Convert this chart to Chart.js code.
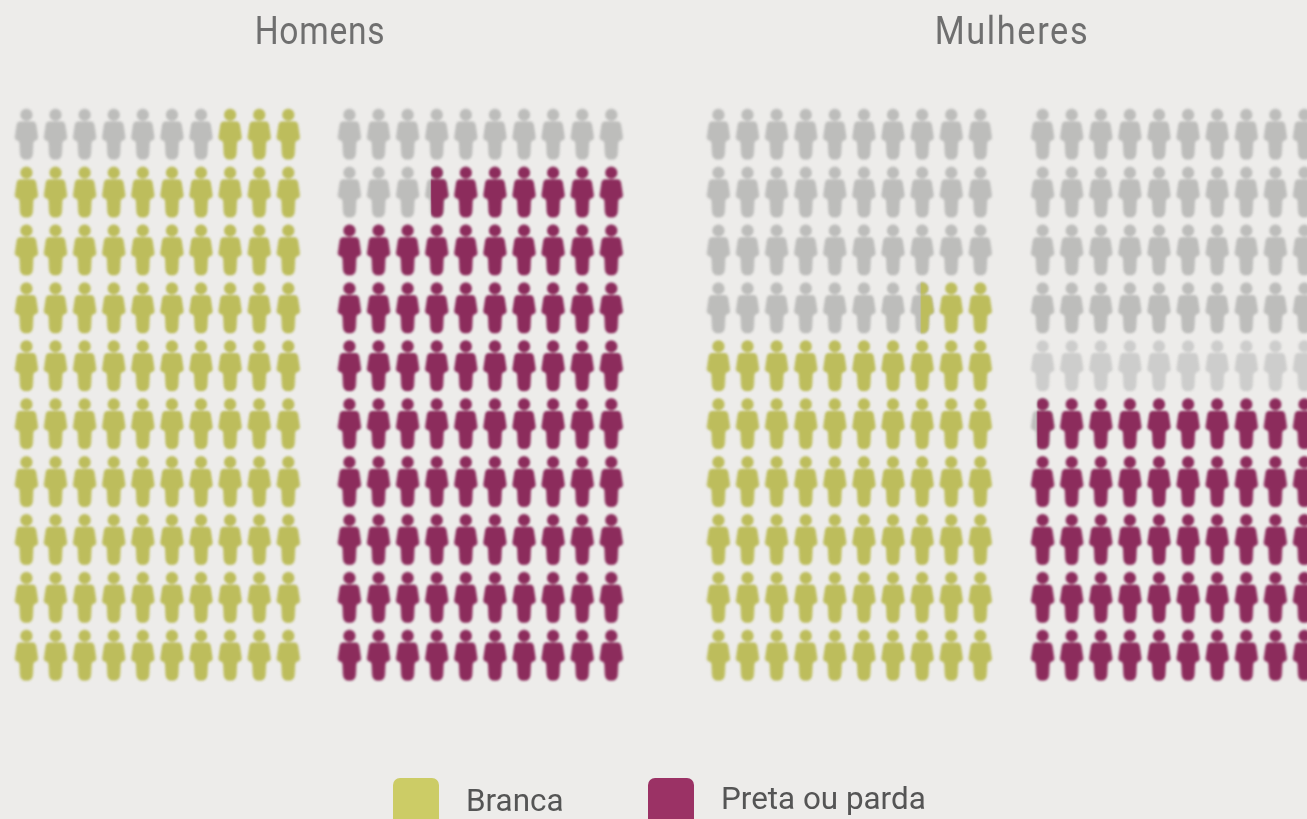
<!DOCTYPE html>
<html lang="pt">
<head>
<meta charset="utf-8">
<title>Homens e Mulheres</title>
<script src="https://cdn.jsdelivr.net/npm/chart.js@4"></script>
<style>
  html,body{margin:0;padding:0;width:1307px;height:819px;overflow:hidden;background:#edecea}
  #wrap{position:relative;width:1307px;height:819px;overflow:hidden}
  canvas{position:absolute;left:0;top:0;display:block}
  .title{position:absolute;top:6px;height:50px;line-height:50px;font-family:Roboto,sans-serif;font-size:39px;color:#6f6f6f;white-space:nowrap}
  .swatch{position:absolute;top:778px;width:46px;height:60px;border-radius:7px}
  .label{position:absolute;font-family:Roboto,sans-serif;font-size:31.4px;line-height:40px;color:#555;white-space:nowrap}
</style>
</head>
<body>
<div id="wrap">
  <canvas id="chart" width="1307" height="819"></canvas>
  <div class="title" style="left:319.5px;letter-spacing:0.9px;transform:translateX(-50%) scaleX(0.86)">Homens</div>
  <div class="title" style="left:1011.5px;letter-spacing:1.85px;transform:translateX(-50%) scaleX(0.88)">Mulheres</div>
  <div id="legend"></div>
</div>
<script>
// --- data (percent of each 100-person panel) ---
const sexes = ['Homens', 'Mulheres'];
const races = ['Branca', 'Preta ou parda'];
const brancaShare = [93, 62.56];
const pretaShare = [86.75, 49.74];
const restLabel = 'Restante';
const fadedRowMulheresPreta = 4;   // lighter row in the last panel

// --- panels and their colours ---
const panelStart = [0, 11.10, 23.78, 34.92];
const COLORS = {branca:'#bdbd5c', preta:'#8c2c5c', rest:'#bdbdbb', faded:'#cdcdcc'};
const LEGEND = {branca:'#cccc66', preta:'#9b3265'};
const COLS = 10, ROWS = 10;

// --- icon ---
function personPath(c, ox){
  c.beginPath();
  c.arc(ox + 11.7, 5.7, 6.1, 0, Math.PI * 2);
  c.closePath();
  c.moveTo(ox + 6, 12.2);
  c.lineTo(ox + 17.4, 12.2);
  c.bezierCurveTo(ox + 20.4, 12.2, ox + 21.2, 14, ox + 21.6, 16);
  c.lineTo(ox + 23.3, 27.5);
  c.bezierCurveTo(ox + 23.7, 30.2, ox + 22, 31, ox + 20.8, 31.2);
  c.quadraticCurveTo(ox + 18.9, 31.6, ox + 18.6, 34);
  c.lineTo(ox + 18.2, 44.6);
  c.quadraticCurveTo(ox + 17.8, 50.6, ox + 11.7, 50.6);
  c.quadraticCurveTo(ox + 5.6, 50.6, ox + 5.2, 44.6);
  c.lineTo(ox + 4.8, 34);
  c.quadraticCurveTo(ox + 4.5, 31.6, ox + 2.6, 31.2);
  c.bezierCurveTo(ox + 1.4, 31, ox - 0.3, 30.2, ox + 0.1, 27.5);
  c.lineTo(ox + 1.8, 16);
  c.bezierCurveTo(ox + 2.2, 14, ox + 3, 12.2, ox + 6, 12.2);
  c.closePath();
}
const W = 28, H = 56, OX = 2.3, OY = 2.7;
function makeIcon(leftColor, rightColor, split){
  const cv = document.createElement('canvas');
  cv.width = W; cv.height = H;
  const c = cv.getContext('2d');
  c.filter = 'blur(0.8px)';
  c.translate(0, OY);
  c.fillStyle = leftColor;
  personPath(c, OX);
  c.fill();
  if (rightColor) {
    c.save();
    c.beginPath();
    c.rect(OX + 23.4 * split, -OY, W, H);
    c.clip();
    c.fillStyle = rightColor;
    personPath(c, OX);
    c.fill();
    c.restore();
  }
  return cv;
}
const icons = {};
function icon(left, right, split){
  const k = left + '|' + right + '|' + split;
  return icons[k] || (icons[k] = makeIcon(left, right, split));
}

// --- build cells ---
function addPanel(panel, share, color, sets, fadedRow){
  const grey = 100 - share;
  for (let r = 0; r < ROWS; r++) for (let c = 0; c < COLS; c++) {
    const g = Math.max(0, Math.min(1, grey - (r * COLS + c)));
    const pt = {x: panelStart[panel] + c, y: r};
    if (g >= 1) {
      sets.rest.data.push(pt);
      sets.rest.pointStyle.push(icon(r === fadedRow ? COLORS.faded : COLORS.rest));
    } else {
      sets[color].data.push(pt);
      sets[color].pointStyle.push(g > 0 ? icon(COLORS.rest, COLORS[color], g) : icon(COLORS[color]));
    }
  }
}
const sets = {
  branca: {label: races[0], data: [], pointStyle: [], backgroundColor: COLORS.branca},
  preta:  {label: races[1], data: [], pointStyle: [], backgroundColor: COLORS.preta},
  rest:   {label: restLabel, data: [], pointStyle: [], backgroundColor: COLORS.rest}
};
addPanel(0, brancaShare[0], 'branca', sets);
addPanel(1, pretaShare[0], 'preta', sets);
addPanel(2, brancaShare[1], 'branca', sets);
addPanel(3, pretaShare[1], 'preta', sets, fadedRowMulheresPreta);

// --- HTML legend plugin ---
const legendPos = [{sw:393, tx:466, ty:781}, {sw:648, tx:721, ty:779}];
const htmlLegend = {
  id: 'htmlLegend',
  afterUpdate(chart){
    const host = document.getElementById('legend');
    host.innerHTML = '';
    chart.data.datasets.slice(0, 2).forEach((ds, i) => {
      const s = document.createElement('div');
      s.className = 'swatch';
      s.style.left = legendPos[i].sw + 'px';
      s.style.background = i === 0 ? LEGEND.branca : LEGEND.preta;
      const t = document.createElement('div');
      t.className = 'label';
      t.style.left = legendPos[i].tx + 'px';
      t.style.top = legendPos[i].ty + 'px';
      t.textContent = ds.label;
      host.append(s, t);
    });
  }
};

new Chart(document.getElementById('chart'), {
  type: 'scatter',
  data: {datasets: [sets.branca, sets.preta, sets.rest]},
  plugins: [htmlLegend],
  options: {
    responsive: false,
    animation: false,
    events: [],
    layout: {padding: 0, autoPadding: false},
    elements: {point: {radius: 10}},
    plugins: {legend: {display: false}, title: {display: false}, tooltip: {enabled: false}},
    scales: {
      x: {type: 'linear', display: false, min: -0.907, max: 44.007},
      y: {type: 'linear', display: false, reverse: true, min: -2.321, max: 11.824}
    }
  }
});
</script>
</body>
</html>
